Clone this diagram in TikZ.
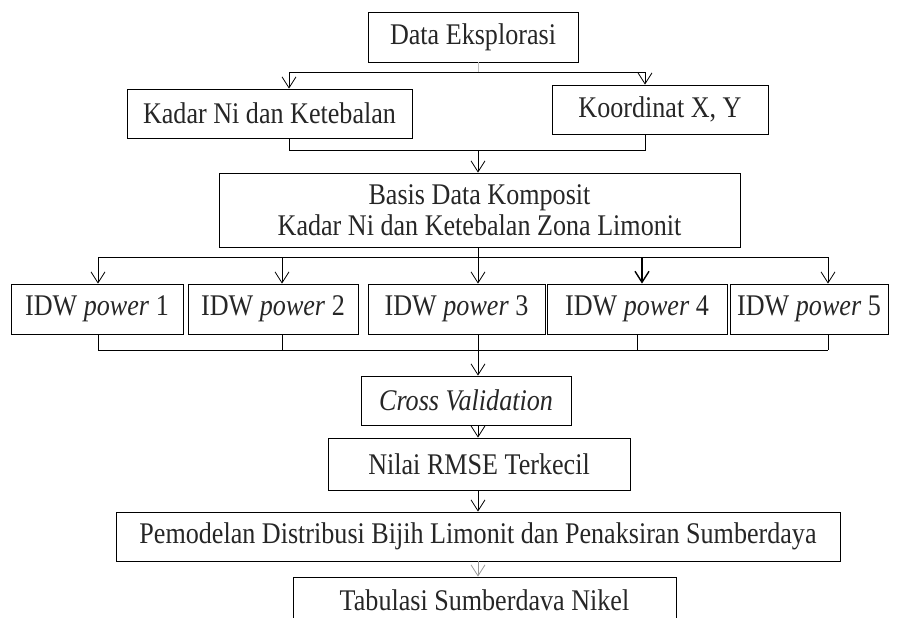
\documentclass[tikz,border=0pt]{standalone}
\usepackage{fontspec}
\setmainfont{Liberation Serif}[FakeStretch=0.87]
\usetikzlibrary{arrows.meta}

\begin{document}
\begin{tikzpicture}[x=0.5pt,y=-0.5pt,>={Straight Barb[length=5.5pt,width=7pt]}]
\tikzstyle{every node}=[draw, rectangle, inner sep=0pt, align=center, text=black!85, font=\fontsize{15}{15.5}\selectfont]
\useasboundingbox (0,0) rectangle (898,617);
\clip (0,0) rectangle (898,617);
\draw (473,37) node (data) [minimum width=105pt, minimum height=25pt] {Data Eksplorasi};
\draw (269.5,113.5) node (kadar) [minimum width=142.5pt, minimum height=24.5pt] {Kadar Ni dan Ketebalan};
\draw (660,109.5) node (koord) [minimum width=108pt, minimum height=24.5pt] {Koordinat X, Y};
\draw (479.5,210) node (basis) [minimum width=260.5pt, minimum height=37pt] {Basis Data Komposit\\Kadar Ni dan Ketebalan Zona Limonit};
\draw (97,309) node (idw1) [minimum width=86pt, minimum height=25pt] {IDW \textit{power} 1};
\draw (273,309) node (idw2) [minimum width=85pt, minimum height=25pt] {IDW \textit{power} 2};
\draw (456.5,309) node (idw3) [minimum width=88.5pt, minimum height=25pt] {IDW \textit{power} 3};
\draw (637,309) node (idw4) [minimum width=90pt, minimum height=25pt] {IDW \textit{power} 4};
\draw (809,309) node (idw5) [minimum width=79pt, minimum height=25pt] {IDW \textit{power} 5};
\draw (466,400.5) node (cross) [minimum width=105pt, minimum height=24.5pt] {\textit{Cross Validation}};
\draw (479,464) node (nilai) [minimum width=151pt, minimum height=26pt] {Nilai RMSE Terkecil};
\draw (478,536.5) node (pem) [minimum width=362pt, minimum height=24.5pt] {Pemodelan Distribusi Bijih Limonit dan Penaksiran Sumberdaya};
\draw (484.5,600) node (tab) [minimum width=191.5pt, minimum height=23pt] {Tabulasi Sumberdava Nikel};
% percabangan atas
\coordinate (b1) at (478,72);
\coordinate (b1l) at (289,72);
\coordinate (b1r) at (645,72);
\draw[black!25] (b1 |- data.south) -- (b1);
\draw (b1l) -- (b1r);
\draw[->] (b1l) -- (b1l |- kadar.north);
\draw[->] (b1r) -- (b1r |- koord.north);
\coordinate (j1) at (478,150);
\coordinate (j1l) at (289,150);
\coordinate (j1r) at (645,150);
\draw (j1l |- kadar.south) -- (j1l) -- (j1r) -- (j1r |- koord.south);
\draw[->] (j1) -- (j1 |- basis.north);
% percabangan IDW
\coordinate (b2) at (478,257);
\draw (b2 |- basis.south) -- (b2);
\foreach \n/\x in {1/98, 2/282, 3/478, 4/642, 5/828}
  \coordinate (a\n) at (\x,257);
\draw (a1) -- (a5);
\foreach \n in {1,2,3,5}
  \draw[->] (a\n) -- (a\n |- idw\n.north);
\draw[->, line width=0.7pt] (a4) -- (a4 |- idw4.north);
\foreach \n/\x in {1/98, 2/282, 3/478, 4/637, 5/828}
  \coordinate (c\n) at (\x,350);
\foreach \n in {1,...,5}
  \draw (c\n |- idw\n.south) -- (c\n);
\draw (c1) -- (c5);
\draw[->] (c3) -- (c3 |- cross.north);
\draw[->] (c3 |- cross.south) -- (c3 |- nilai.north);
\draw[->] (c3 |- nilai.south) -- (c3 |- pem.north);
\draw[->, black!40] (c3 |- pem.south) -- (c3 |- tab.north);
\end{tikzpicture}
\end{document}
